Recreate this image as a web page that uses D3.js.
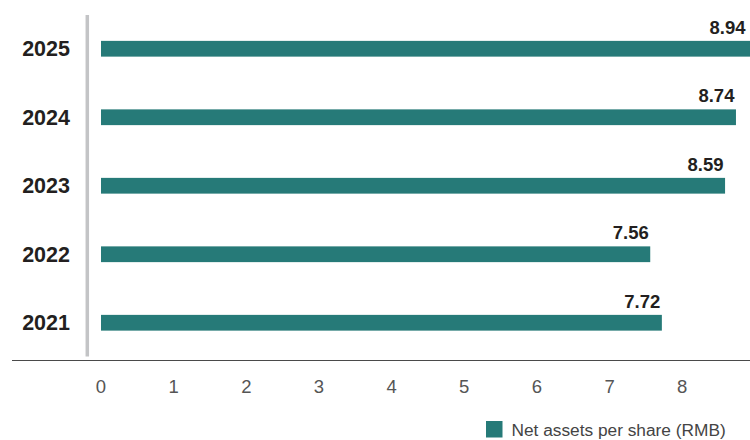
<!DOCTYPE html>
<html><head><meta charset="utf-8">
<script src="https://cdn.jsdelivr.net/npm/d3@7"></script>
<style>body{margin:0;background:#fff}svg{display:block}</style>
</head><body>
<svg id="c" width="750" height="440"></svg>
<script>
const years = ["2025","2024","2023","2022","2021"];
const values = [8.94, 8.74, 8.59, 7.56, 7.72];
const ticks = [0,1,2,3,4,5,6,7,8];
const seriesName = "Net assets per share (RMB)";

const svg = d3.select("#c");
const font = "'Liberation Sans', Arial, Helvetica, sans-serif";
const x = d3.scaleLinear().domain([0, 8]).range([101, 682.2]);
const y = d3.scaleBand().domain(years).range([14.5, 357]).paddingInner(0.77).paddingOuter(0.385);

// vertical gray axis
svg.append("line").attr("x1",87.3).attr("x2",87.3).attr("y1",15).attr("y2",356.5)
  .attr("stroke","#c3c4c6").attr("stroke-width",3.5);
// bottom axis line
svg.append("line").attr("x1",12).attr("x2",750).attr("y1",360.5).attr("y2",360.5)
  .attr("stroke","#4a4a4a").attr("stroke-width",1);

// bars
svg.selectAll("rect.bar").data(years).enter().append("rect").attr("class","bar")
  .attr("x", x(0)).attr("y", d => y(d))
  .attr("width", (d,i) => x(values[i]) - x(0)).attr("height", y.bandwidth())
  .attr("fill","#267a78");

// value labels
svg.selectAll("text.val").data(years).enter().append("text").attr("class","val")
  .attr("x", (d,i) => Math.min(x(values[i]) - 1.5, 745.5))
  .attr("y", d => y(d) - 7)
  .attr("text-anchor","end").attr("font-family",font).attr("font-weight","bold")
  .attr("font-size",18.5).attr("fill","#231f20")
  .text((d,i) => values[i].toFixed(2));

// year labels
svg.selectAll("text.yr").data(years).enter().append("text").attr("class","yr")
  .attr("x", 70).attr("y", d => y(d) + y.bandwidth()/2 + 7.5)
  .attr("text-anchor","end").attr("font-family",font).attr("font-weight","bold")
  .attr("font-size",21.5).attr("fill","#231f20").text(d => d);

// x tick labels
const ax = svg.append("g").attr("transform","translate(0,393)");
ax.selectAll("text").data(ticks).enter().append("text")
  .attr("x", d => x(d)).attr("y", 0).attr("text-anchor","middle")
  .attr("font-family",font).attr("font-size",18.5).attr("fill","#555")
  .text(d => d);

// legend
svg.append("rect").attr("x",486).attr("y",421).attr("width",16.5).attr("height",16.5).attr("fill","#267a78");
svg.append("text").attr("x",511.5).attr("y",435.5).attr("font-family",font).attr("font-size",17.3)
  .attr("fill","#444").text(seriesName);
</script>
</body></html>
